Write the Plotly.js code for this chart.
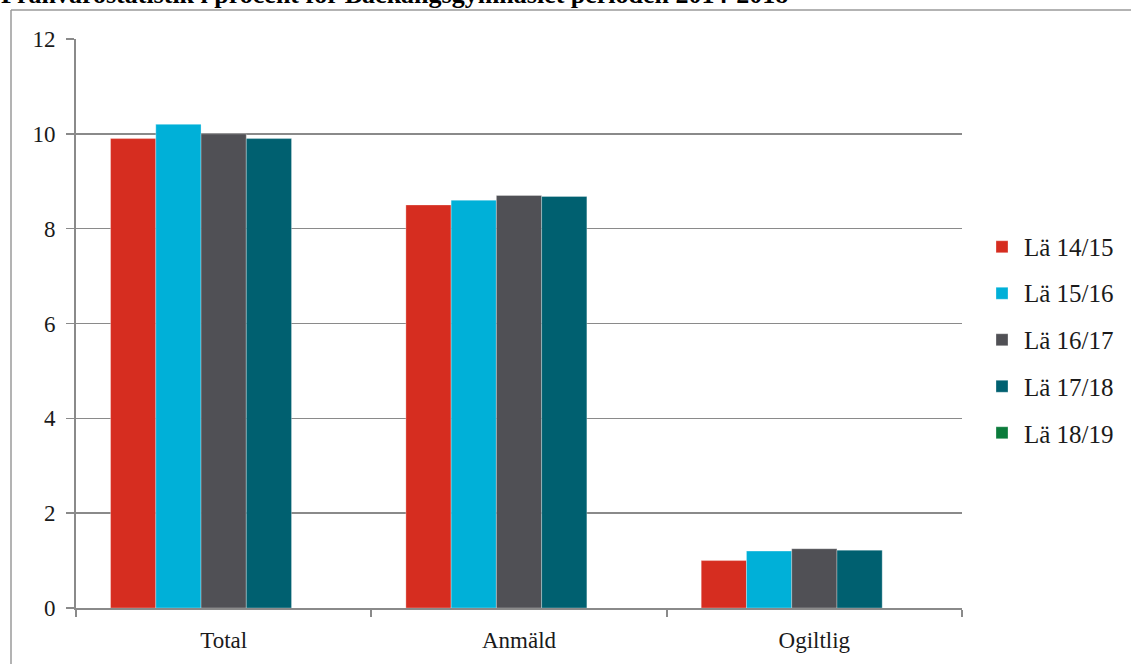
<!DOCTYPE html>
<html>
<head>
<meta charset="utf-8">
<script src="https://cdn.plot.ly/plotly-3.0.1.min.js"></script>
<style>html,body{margin:0;padding:0;background:#fff;}#chart{width:1131px;height:664px;}</style>
</head>
<body>
<div id="chart"></div>
<script>
const categories = ["Total", "Anmäld", "Ogiltlig"];
const seriesNames = ["Lä 14/15", "Lä 15/16", "Lä 16/17", "Lä 17/18", "Lä 18/19"];
const la1415 = [9.9, 8.5, 1.0];
const la1516 = [10.2, 8.6, 1.2];
const la1617 = [10.0, 8.7, 1.25];
const la1718 = [9.9, 8.68, 1.22];
const la1819 = [null, null, null];
const yTicks = [0, 2, 4, 6, 8, 10, 12];
const titleText = "Frånvarostatistik i procent för Bäckängsgymnasiet perioden 2014-2018";

const colors = ["#D62D20", "#00B0D8", "#505055", "#006070", "#0B7B3B"];
const values = [la1415, la1516, la1617, la1718, la1819];
const FONT = "Liberation Serif";

const traces = values.map((v, i) => ({
  type: "bar",
  name: seriesNames[i],
  x: categories,
  y: v,
  legendgroup: "g" + i,
  marker: {color: colors[i], line: {color: "rgba(255,255,255,0.5)", width: 0.6}},
  hoverinfo: "x+y+name"
}));

// plot area: x 76..962, y 39..608
const L = 76, R = 1131 - 962, T = 39, B = 664 - 608;
const pw = 1131 - L - R, ph = 664 - T - B;
const px2x = p => (p - L) / pw;
const py2y = p => (664 - B - p) / ph;

// legend: library draws the swatches; the labels are drawn as serif text beside them
const LEG_TOP = 224, LEG_FIRST = 247, LEG_STEP = 46.75, LEG_TEXT_X = 1022;
const legendLabels = seriesNames.map((name, i) => ({
  text: name, xref: "paper", yref: "paper",
  x: px2x(LEG_TEXT_X), xanchor: "left",
  y: py2y(LEG_FIRST + i * LEG_STEP), yanchor: "middle",
  showarrow: false,
  font: {family: FONT, size: 25, color: "#1a1a1a"}
}));

const layout = {
  width: 1131, height: 664,
  margin: {l: L, r: R, t: T, b: B, pad: 0, autoexpand: false},
  paper_bgcolor: "#ffffff", plot_bgcolor: "#ffffff",
  font: {family: FONT, size: 22, color: "#1a1a1a"},
  barmode: "group",
  bargap: 0.234,
  bargroupgap: 0,
  showlegend: true,
  legend: {
    x: px2x(982), xanchor: "left", y: py2y(LEG_TOP), yanchor: "top",
    font: {family: FONT, size: 25, color: "rgba(0,0,0,0)"},
    tracegroupgap: 11, bgcolor: "rgba(0,0,0,0)"
  },
  xaxis: {
    type: "category",
    showgrid: false, zeroline: false,
    showline: true, linecolor: "#8a8a8a", linewidth: 2,
    ticks: "outside", tickson: "boundaries", ticklen: 7, tickcolor: "#8a8a8a", tickwidth: 2,
    ticklabelstandoff: 10,
    tickfont: {family: FONT, size: 23, color: "#1a1a1a"}
  },
  yaxis: {
    range: [0, 12], tickvals: yTicks, ticktext: yTicks.map(String),
    showgrid: true, gridcolor: "#8a8a8a", gridwidth: 1.5,
    zeroline: false,
    showline: true, linecolor: "#8a8a8a", linewidth: 2,
    ticks: "outside", ticklen: 8, tickcolor: "#8a8a8a", tickwidth: 1.5,
    ticklabelstandoff: 6,
    tickfont: {family: FONT, size: 23, color: "#1a1a1a"}
  },
  shapes: [
    {type: "line", xref: "paper", yref: "paper", x0: px2x(11), x1: px2x(1140), y0: py2y(10), y1: py2y(10),
     line: {color: "#9a9a9a", width: 1.5}},
    {type: "line", xref: "paper", yref: "paper", x0: px2x(11), x1: px2x(11), y0: py2y(10), y1: py2y(680),
     line: {color: "#9a9a9a", width: 1.5}}
  ],
  annotations: [
    {text: "<b>" + titleText + "</b>", xref: "paper", yref: "paper",
     x: px2x(-1), xanchor: "left", y: py2y(11), yanchor: "bottom", showarrow: false,
     font: {family: FONT, size: 26, color: "#000"}}
  ].concat(legendLabels)
};

Plotly.newPlot("chart", traces, layout, {displayModeBar: false, staticPlot: true});
</script>
</body>
</html>
